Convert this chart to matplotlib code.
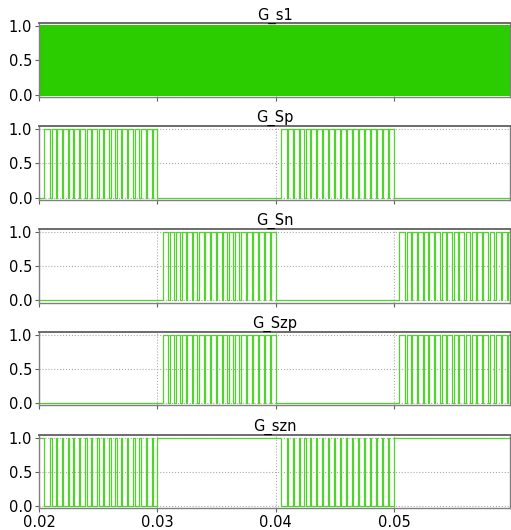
import numpy as np
import matplotlib.pyplot as plt

# gate signal names, top to bottom
titles = ['G_s1', 'G_Sp', 'G_Sn', 'G_Szp', 'G_szn']

# one active half-cycle of the PWM gate (seconds, measured from the start of the half-cycle)
pulse_rise = 0.00045
notch_start = [0.00093, 0.00144, 0.00194, 0.00243, 0.00290, 0.00338, 0.00391, 0.00442, 0.00493,
               0.00544, 0.00592, 0.00642, 0.00693, 0.00746, 0.00797, 0.00848, 0.00902, 0.00953]
notch_end = [0.00107, 0.00155, 0.00205, 0.00254, 0.00299, 0.00349, 0.00403, 0.00450, 0.00505,
             0.00552, 0.00606, 0.00656, 0.00704, 0.00754, 0.00809, 0.00860, 0.00910, 0.00961]
pulse_fall = 0.01

# start of the active half-cycles for the positive and negative switches
sp_starts = [0.02, 0.04]
sn_starts = [0.03, 0.05]

# high-frequency switch
s1_period = 2.5e-5
s1_duty = 0.5

t_start, t_end = 0.02, 0.0598


def gate(starts):
    t = [t_start]
    v = [0]
    for s in starts:
        edges = [pulse_rise]
        for a, b in zip(notch_start, notch_end):
            edges += [a, b]
        edges.append(pulse_fall)
        for i, e in enumerate(edges):
            t.append(s + e)
            v.append(1 if i % 2 == 0 else 0)
    t.append(t_end)
    v.append(v[-1])
    return np.array(t), np.array(v)


t_sp, v_sp = gate(sp_starts)
t_sn, v_sn = gate(sn_starts)
t_szp, v_szp = t_sn, v_sn
t_szn, v_szn = t_sp, 1 - v_sp

n = int((t_end - t_start) / s1_period) + 1
t_s1 = np.ravel(np.column_stack([t_start + np.arange(n) * s1_period,
                                 t_start + (np.arange(n) + s1_duty) * s1_period]))
v_s1 = np.tile([1, 0], n)

signals = [(t_s1, v_s1), (t_sp, v_sp), (t_sn, v_sn), (t_szp, v_szp), (t_szn, v_szn)]

fig = plt.figure(figsize=(5.11, 5.30), dpi=100)
green = '#2bcc00'

for k, (name, (t, v)) in enumerate(zip(titles, signals)):
    top = 23.5 + k * 102.9
    ax = fig.add_axes([39 / 511, 1 - (top + 73.2) / 530, 471 / 511, 73.2 / 530])
    if k == 0:
        ax.plot(t, v, drawstyle='steps-post', color=green, lw=1.0)
    else:
        ax.plot(t, v, drawstyle='steps-post', color='#50d42c', lw=0.9)
    ax.set_xlim(t_start, t_end)
    ax.set_ylim(-0.03, 1.04)
    ax.set_yticks([0.0, 0.5, 1.0])
    ax.set_yticklabels(['0.0', '0.5', '1.0'])
    ax.set_xticks([0.02, 0.03, 0.04, 0.05])
    if k == 4:
        ax.set_xticklabels(['0.02', '0.03', '0.04', '0.05'])
    else:
        ax.set_xticklabels([])
    ax.grid(True, ls=':', color='#aaaaaa', lw=0.8)
    ax.set_axisbelow(True)
    for sp in ax.spines.values():
        sp.set_color('#808080')
        sp.set_linewidth(1.0)
    ax.spines['top'].set_color('#606060')
    ax.spines['top'].set_linewidth(1.3)
    ax.tick_params(length=3, width=0.8, color='#606060', labelsize=10.5, pad=2)
    ax.set_title(name, fontsize=10.5, pad=3)

fig.savefig('out.png', dpi=100)
